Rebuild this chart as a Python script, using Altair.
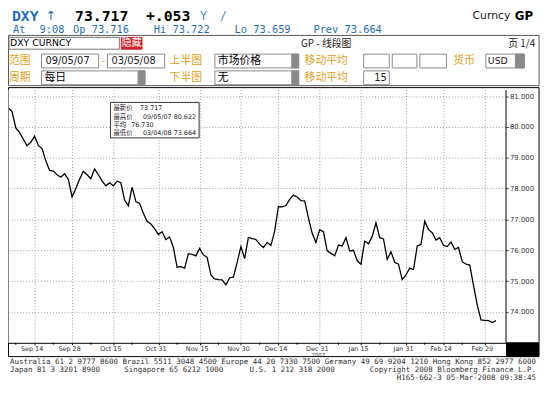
import altair as alt
import pandas as pd

# ---------------- data ----------------
values = [
    80.62, 80.50, 79.97, 79.82, 79.60, 79.39, 79.50, 79.70, 79.40, 79.30,
    78.90, 78.59, 78.57, 78.45, 78.37, 78.48, 78.30, 77.73, 78.00, 78.30,
    78.56, 78.45, 78.32, 78.64, 78.45, 78.25, 78.09, 78.19, 78.09, 78.24,
    78.19, 77.63, 77.44, 78.05, 77.58, 77.52, 77.20, 76.94, 76.85, 76.70,
    76.51, 76.60, 76.35, 76.43, 76.09, 75.45, 75.47, 75.42, 75.89, 75.87,
    75.82, 76.06, 75.85, 75.77, 75.20, 75.07, 75.05, 75.04, 74.88, 75.11,
    75.13, 75.61, 76.12, 75.73, 76.42, 76.38, 76.35, 76.20, 76.09, 76.25,
    76.16, 76.62, 77.42, 77.41, 77.45, 77.65, 77.79, 77.73, 77.61, 77.60,
    77.05, 76.55, 76.25, 76.67, 76.60, 75.98, 75.90, 75.82, 76.17, 76.14,
    76.41, 75.98, 76.00, 75.66, 75.55, 76.30, 76.21, 76.45, 76.89, 76.41,
    76.37, 75.71, 75.95, 75.61, 75.55, 75.05, 75.20, 75.42, 75.37, 76.14,
    76.19, 76.94, 76.67, 76.57, 76.33, 76.41, 76.16, 76.12, 76.27, 76.03,
    76.09, 75.63, 75.55, 75.52, 74.86, 74.22, 73.74, 73.73, 73.72, 73.66,
    73.72,
]
dates = pd.bdate_range("2007-09-05", periods=len(values))
tick_idx = [7, 17, 28, 40, 51, 62, 72, 83, 94, 106, 116, 127]
tick_labels = ["Sep 14", "Sep 28", "Oct 15", "Oct 31", "Nov 15", "Nov 30",
               "Dec 14", "Dec 31", "Jan 15", "Jan 31", "Feb 14", "Feb 29"]
minor_idx = [2, 12, 22, 33, 45, 56, 67, 77, 88, 99, 111, 121]
y_ticks = [74, 75, 76, 77, 78, 79, 80, 81]

df = pd.DataFrame({"i": list(range(len(values))), "v": values,
                   "date": dates.strftime("%Y-%m-%d")})
minor_df = pd.DataFrame({"i": minor_idx})
one = pd.DataFrame({"a": [0]})

# ---------------- layout helpers (page -> plot coords) ----------------
PL, PT = 0, 80          # padding left / top
W, H = 505, 257


def X(px):
    return px - 8 - PL


def Y(py):
    return py - 8 - PT


MONO = "DejaVu Sans Mono"
SANS = "DejaVu Sans"
CJK = "Noto Sans CJK SC"
GOLD = "#e2a122"
BLUE = "#1f6fb6"


def txt(s, px, py, size=10, color="black", weight="normal", font=SANS,
        align="left"):
    return alt.Chart(one).mark_text(
        text=s, align=align, baseline="middle", fontSize=size, font=font,
        fontWeight=weight, color=color
    ).encode(x=alt.value(X(px)), y=alt.value(Y(py)))


def box(x1, y1, x2, y2, fill="white", stroke="#8a8a8a", sw=1, fo=1):
    return alt.Chart(one).mark_rect(
        fill=fill, fillOpacity=fo, stroke=stroke, strokeWidth=sw
    ).encode(x=alt.value(X(x1)), x2=alt.value(X(x2)),
             y=alt.value(Y(y1)), y2=alt.value(Y(y2)))


layers = []

# outer frames (no fill so that axes and grid show through)
layers.append(box(8.5, 33, 547, 84, fill="white", stroke="#555", fo=0))
layers.append(box(8.5, 86, 547, 359, fill="white", stroke="black", fo=0))

# header line 1
layers += [
    txt("DXY", 12, 13.5, 15, BLUE, "bold", MONO),
    txt("↑", 46, 13.5, 13, BLUE, "normal", SANS),
    txt("73.717", 76, 13.5, 15, "black", "bold", MONO),
    txt("+.053", 148, 13.5, 15, "black", "bold", MONO),
    txt("Y", 203, 13.5, 12, "#4a8fd0", "normal", MONO),
    txt("/", 223, 13.5, 12, "#4a8fd0", "normal", MONO),
    txt("Curncy", 518, 13.5, 11, "#222", "normal", SANS, "right"),
    txt("GP", 541, 13.5, 12, "black", "bold", SANS, "right"),
]
# header line 2
layers += [
    txt("At", 13, 28, 10.5, BLUE, "normal", MONO),
    txt("9:08", 40, 28, 10.5, BLUE, "normal", MONO),
    txt("Op 73.716", 74, 28, 10.5, BLUE, "normal", MONO),
    txt("Hi 73.722", 156, 28, 10.5, BLUE, "normal", MONO),
    txt("Lo 73.659", 238, 28, 10.5, BLUE, "normal", MONO),
    txt("Prev 73.664", 318, 28, 10.5, BLUE, "normal", MONO),
]

# form row 1
layers += [
    box(9, 35, 121, 47, stroke="#777"),
    txt("DXY CURNCY", 10, 41, 9.5, "black", "normal", SANS),
    box(123, 35, 144, 47, fill="#c8242a", stroke="#c8242a"),
    txt("隐藏", 133.5, 41, 10, "white", "normal", CJK, "center"),
    txt("GP - 线段图", 331, 41.5, 10, "#222", "normal", CJK, "center"),
    txt("页 1/4", 543, 41.5, 10, "#222", "normal", CJK, "right"),
]
# form row 2
layers += [
    txt("范围", 9, 59, 11, GOLD, "normal", CJK),
    box(42, 52, 100, 66),
    txt("09/05/07", 46, 59, 10, "#222", "normal", SANS),
    txt("-", 103, 59, 10, GOLD, "normal", SANS),
    box(109, 52, 167, 66),
    txt("03/05/08", 113, 59, 10, "#222", "normal", SANS),
    txt("上半图", 172, 59, 11, GOLD, "normal", CJK),
    box(218, 52, 303, 66),
    box(296, 52, 303, 66, fill="#8a8a8a", stroke="#8a8a8a"),
    txt("市场价格", 221, 59, 11, "black", "normal", CJK),
    txt("移动平均", 309, 59, 11, GOLD, "normal", CJK),
    box(369, 52, 395, 66),
    box(398, 52, 423, 66),
    box(426, 52, 453, 66),
    txt("货币", 460, 59, 11, GOLD, "normal", CJK),
    box(493, 52, 532, 66),
    box(523, 52, 532, 66, fill="#8a8a8a", stroke="#8a8a8a"),
    txt("USD", 495, 59, 9.5, "#222", "normal", SANS),
]
# form row 3
layers += [
    txt("周期", 9, 76, 11, GOLD, "normal", CJK),
    box(42, 69, 147, 83),
    box(140, 69, 147, 83, fill="#8a8a8a", stroke="#8a8a8a"),
    txt("每日", 45, 76, 11, "black", "normal", CJK),
    txt("下半图", 172, 76, 11, GOLD, "normal", CJK),
    box(218, 69, 303, 83),
    box(296, 69, 303, 83, fill="#8a8a8a", stroke="#8a8a8a"),
    txt("无", 221, 76, 11, "black", "normal", CJK),
    txt("移动平均", 309, 76, 11, GOLD, "normal", CJK),
    box(369, 69, 395, 83),
    txt("15", 386, 76, 10, "#222", "normal", SANS, "center"),
]

# main line chart with axes
line = alt.Chart(df).mark_line(color="black", strokeWidth=1.3).encode(
    x=alt.X("i:Q",
            scale=alt.Scale(domain=[-0.08, 132.54], nice=False, zero=False),
            axis=alt.Axis(values=tick_idx, title=None, grid=True,
                          gridDash=[1, 2], gridColor="#9a9a9a",
                          gridOpacity=1, domainColor="black",
                          tickColor="black", tickSize=2, labelPadding=1,
                          labelFontSize=6.5, labelColor="#333",
                          labelFont=SANS, labelOffset=-3,
                          labelExpr="[" + ",".join("'%s'" % t for t in tick_labels) +
                          "][indexof([" + ",".join(str(t) for t in tick_idx) +
                          "], datum.value)]")),
    y=alt.Y("v:Q",
            scale=alt.Scale(domain=[73.0, 81.21], nice=False, zero=False),
            axis=alt.Axis(orient="right", values=y_ticks, format=".3f",
                          title=None, grid=True, gridDash=[1, 2],
                          gridColor="#9a9a9a", gridOpacity=1,
                          domainColor="black", tickColor="#555",
                          tickSize=3, labelPadding=1, labelFontSize=7,
                          labelColor="#333", labelFont=SANS)),
)
layers.append(line)

minor = alt.Chart(minor_df).mark_rule(color="black").encode(
    x=alt.X("i:Q"), y=alt.value(H), y2=alt.value(H + 2))
layers.append(minor)

# left gray plot edge
layers.append(alt.Chart(one).mark_rule(color="#888").encode(
    x=alt.value(0.5), y=alt.value(0), y2=alt.value(H)))

# black box bottom right, year label
layers.append(box(514, 345, 546.5, 359, fill="black", stroke="black"))
layers.append(txt("2007", 323, 357.5, 5.5, "#333", "normal", SANS, "center"))

# legend box
layers += [
    box(112, 101, 202, 137, fill="white", stroke="#333"),
    txt("最新价", 115, 107, 6.5, "#222", "normal", CJK),
    txt("73.717", 142, 107, 6.5, "#222", "normal", SANS),
    txt("最高价", 115, 115.5, 6.5, "#222", "normal", CJK),
    txt("09/05/07 80.622", 145, 115.5, 6.5, "#222", "normal", SANS),
    txt("平均", 115, 124, 6.5, "#222", "normal", CJK),
    txt("76.730", 133, 124, 6.5, "#222", "normal", SANS),
    txt("最低价", 115, 132, 6.5, "#222", "normal", CJK),
    txt("03/04/08 73.664", 145, 132, 6.5, "#222", "normal", SANS),
]

# footer
FOOT = "#333"
layers += [
    txt("Australia 61 2 9777 8600 Brazil 5511 3048 4500 Europe 44 20 7330 7500 "
        "Germany 49 69 9204 1210 Hong Kong 852 2977 6000", 10, 364.5, 7.6, FOOT,
        "normal", MONO),
    txt("Japan 81 3 3201 8900", 10, 372.5, 7.6, FOOT, "normal", MONO),
    txt("Singapore 65 6212 1000", 126, 372.5, 7.6, FOOT, "normal", MONO),
    txt("U.S. 1 212 318 2000", 253, 372.5, 7.6, FOOT, "normal", MONO),
    txt("Copyright 2008 Bloomberg Finance L.P.", 544, 372.5, 7.6, FOOT,
        "normal", MONO, "right"),
    txt("H165-662-3 05-Mar-2008 09:38:45", 544, 380.5, 7.6, FOOT, "normal",
        MONO, "right"),
]

chart = alt.layer(*layers).properties(
    width=W, height=H,
    padding={"left": PL, "top": PT, "right": 37, "bottom": 40},
    autosize=alt.AutoSizeParams(type="none"),
    background="white",
).configure_view(stroke=None)

chart.save("out.html", embed_options={"renderer": "svg", "actions": False})
